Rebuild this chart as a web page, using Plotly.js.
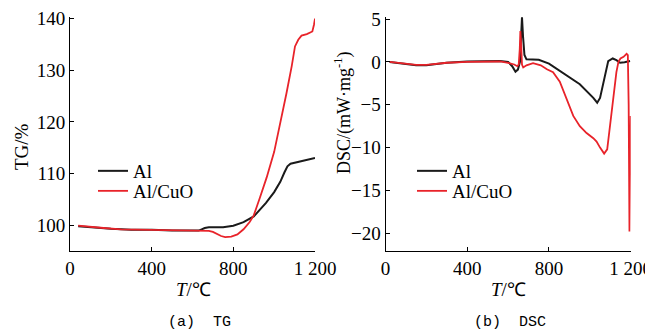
<!DOCTYPE html>
<html><head><meta charset="utf-8">
<script src="https://cdn.plot.ly/plotly-3.0.1.min.js"></script>
<style>html,body{margin:0;padding:0;background:#fff}#chart{width:645px;height:333px}</style>
</head><body><div id="chart"></div>
<script>
// ---- TG data (T in °C, TG in %)
const tgAlT   = [40,100,200,300,400,500,600,630,645,660,680,750,800,850,900,930,960,1000,1030,1050,1065,1080,1100,1150,1200];
const tgAlV   = [99.8,99.6,99.3,99.1,99.1,98.95,98.9,98.95,99.2,99.45,99.6,99.6,99.9,100.6,101.7,103,104.3,106.4,108.4,110.2,111.4,111.9,112.1,112.5,113];
const tgCuT   = [40,80,150,250,400,500,600,680,700,720,740,760,790,820,850,880,900,930,963,1000,1037,1060,1086,1102,1118,1134,1160,1175,1187,1195,1200];
const tgCuV   = [99.9,99.8,99.5,99.2,99.1,98.9,98.9,98.9,98.7,98.3,97.9,97.7,97.8,98.2,99.2,100.6,101.9,105.3,109.2,114.2,120.8,125.5,130.8,134.6,135.9,136.7,137,137.2,137.5,138.8,140];
// ---- DSC data (T in °C, DSC in mW/mg)
const dscAlT  = [20,60,100,150,200,250,300,400,500,560,600,620,636,648,658,664,668,673,680,690,706,750,800,870,951,1017,1036,1050,1065,1080,1090,1112,1130,1148,1170,1197];
const dscAlV  = [0,-0.1,-0.25,-0.4,-0.4,-0.25,-0.1,0.05,0.1,0.1,0,-0.5,-1.15,-0.9,0,2.5,5.2,3,0.8,0.3,0.3,0.25,-0.2,-1.3,-2.6,-4.2,-4.76,-4.2,-2.5,-0.8,0.1,0.4,0.2,-0.1,-0.05,0.1];
const dscCuT  = [20,60,100,150,200,250,300,400,500,560,600,630,645,652,657,660,664,668,674,690,722,760,790,820,853,886,919,951,984,1017,1033,1050,1070,1085,1099,1105,1118,1130,1140,1150,1165,1180,1186,1190,1194,1197,1200];
const dscCuV  = [0,-0.1,-0.2,-0.35,-0.35,-0.25,-0.1,0,0.05,0.05,-0.1,-0.3,-0.5,-0.3,1.5,3.6,2,-0.3,-0.65,-0.4,-0.15,-0.4,-0.85,-1.2,-2.3,-4.4,-6.3,-7.5,-8.3,-8.9,-9.3,-10,-10.7,-10.2,-7.5,-6.3,-3.5,-1.2,0,0.4,0.6,0.95,0.8,-5,-19.8,-12,-6.3];
// ---- labels
const seriesNames = ["Al","Al/CuO"];
const xTickVals = [0,400,800,1200];
const xTickText = ["0","400","800","1 200"];
const tgTicks = [100,110,120,130,140];
const dscTicks = [5,0,-5,-10,-15,-20];

const BLACK = "#1a1a1a", RED = "#e8232a";
const serif = "Liberation Serif, Times New Roman, serif";

const traces = [
  {x:tgAlT, y:tgAlV, name:seriesNames[0], mode:"lines", line:{color:BLACK,width:2}, xaxis:"x", yaxis:"y", legend:"legend"},
  {x:tgCuT, y:tgCuV, name:seriesNames[1], mode:"lines", line:{color:RED,width:1.8}, xaxis:"x", yaxis:"y", legend:"legend2"},
  {x:dscAlT, y:dscAlV, name:seriesNames[0], mode:"lines", line:{color:BLACK,width:2}, xaxis:"x2", yaxis:"y2", legend:"legend3"},
  {x:dscCuT, y:dscCuV, name:seriesNames[1], mode:"lines", line:{color:RED,width:1.8}, xaxis:"x2", yaxis:"y2", legend:"legend4"}
];

const axBase = {showline:true, linecolor:"#000", linewidth:1, ticks:"inside", ticklen:4, tickcolor:"#000",
  showgrid:false, zeroline:false, tickfont:{family:serif, size:19, color:"#000"}, fixedrange:true, ticklabeloverflow:"allow"};
const yDom = [1-251/333, 1-16.5/333];

const legBase = {font:{family:serif,size:19,color:"#000"}, bgcolor:"rgba(0,0,0,0)", borderwidth:0,
  xanchor:"left", yanchor:"top", itemwidth:30, tracegroupgap:0};

const layout = {
  width:645, height:333, margin:{l:0,r:0,t:0,b:0,pad:0},
  paper_bgcolor:"#fff", plot_bgcolor:"#fff", showlegend:true,
  xaxis: Object.assign({}, axBase, {domain:[70/645,315/645], range:[0,1200], tickvals:xTickVals, ticktext:xTickText, anchor:"y"}),
  yaxis: Object.assign({}, axBase, {domain:yDom, range:[95,140.4], tickvals:tgTicks, anchor:"x"}),
  xaxis2: Object.assign({}, axBase, {domain:[385.5/645,630.7/645], range:[0,1200], tickvals:xTickVals, ticktext:xTickText, anchor:"y2"}),
  yaxis2: Object.assign({}, axBase, {domain:yDom, range:[-22.07,5.3], tickvals:dscTicks, anchor:"x2"}),
  legend: Object.assign({}, legBase, {x:93/645, y:1-152/333}),
  legend2: Object.assign({}, legBase, {x:93/645, y:1-172/333}),
  legend3: Object.assign({}, legBase, {x:412/645, y:1-152/333}),
  legend4: Object.assign({}, legBase, {x:412/645, y:1-172/333}),
  annotations:[
    {text:"<i>T</i>/℃", x:193/645, y:1-289/333, xref:"paper", yref:"paper", showarrow:false, xanchor:"center", yanchor:"middle", font:{family:serif,size:19,color:"#000"}},
    {text:"<i>T</i>/℃", x:508/645, y:1-289/333, xref:"paper", yref:"paper", showarrow:false, xanchor:"center", yanchor:"middle", font:{family:serif,size:19,color:"#000"}},
    {text:"TG/%", x:22/645, y:1-147/333, xref:"paper", yref:"paper", showarrow:false, textangle:-90, xanchor:"center", yanchor:"middle", font:{family:serif,size:19,color:"#000"}},
    {text:"DSC/(mW·mg<sup>-1</sup>)", x:343/645, y:1-113/333, xref:"paper", yref:"paper", showarrow:false, textangle:-90, xanchor:"center", yanchor:"middle", font:{family:serif,size:18,color:"#000"}},
    {text:"(a)  TG", x:199/645, y:1-322/333, xref:"paper", yref:"paper", showarrow:false, xanchor:"center", yanchor:"middle", font:{family:"Liberation Mono, monospace",size:15,color:"#000"}},
    {text:"(b)  DSC", x:510/645, y:1-322/333, xref:"paper", yref:"paper", showarrow:false, xanchor:"center", yanchor:"middle", font:{family:"Liberation Mono, monospace",size:15,color:"#000"}}
  ]
};

Plotly.newPlot("chart", traces, layout, {displayModeBar:false, staticPlot:true});
</script>
</body></html>
